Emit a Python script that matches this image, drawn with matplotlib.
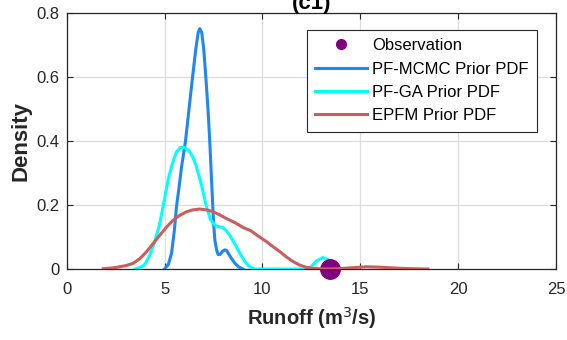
import numpy as np
import matplotlib
matplotlib.use("Agg")
import matplotlib.pyplot as plt

plt.rcParams['font.family'] = ['Liberation Sans', 'DejaVu Sans']

# -> values
mcmc_x = [5.0, 5.2, 5.36, 5.5, 5.61, 5.75, 5.87, 6.07, 6.25, 6.43, 6.6, 6.72, 6.8, 6.9,
          7.0, 7.11, 7.22, 7.31, 7.4, 7.5, 7.57, 7.66, 7.74, 7.85, 7.95, 8.08, 8.17,
          8.25, 8.4, 8.59, 8.8, 9.01]
mcmc_y = [0.0, 0.015, 0.05, 0.12, 0.195, 0.26, 0.32, 0.40, 0.50, 0.60, 0.69, 0.74, 0.752, 0.74,
          0.69, 0.60, 0.50, 0.40, 0.28, 0.15, 0.09, 0.06, 0.045, 0.046, 0.055, 0.06, 0.058,
          0.05, 0.035, 0.018, 0.006, 0.0]

ga_x = [3.49, 3.8, 4.0, 4.25, 4.5, 4.76, 5.0, 5.18, 5.4, 5.6, 5.8, 6.04, 6.25, 6.45, 6.63,
        6.9, 7.14, 7.35, 7.57, 7.75, 7.99, 8.15, 8.33, 8.6, 8.84, 9.1, 9.35, 9.6,
        10.5, 11.5, 12.24, 12.5, 12.75, 13.09, 13.4, 13.7, 13.94]
ga_y = [0.0, 0.006, 0.015, 0.044, 0.085, 0.143, 0.22, 0.278, 0.33, 0.365, 0.38, 0.38, 0.37, 0.35, 0.32,
        0.26, 0.195, 0.155, 0.137, 0.133, 0.13, 0.12, 0.106, 0.078, 0.05, 0.024, 0.007, 0.0,
        0.0, 0.0, 0.0, 0.008, 0.025, 0.036, 0.028, 0.01, 0.0]

epfm_x = [1.87, 2.3, 2.72, 3.05, 3.4, 3.75, 4.08, 4.42, 4.76, 5.1, 5.44, 5.78, 6.12, 6.45,
          6.8, 7.15, 7.48, 7.8, 8.16, 8.6, 9.01, 9.4, 9.86, 10.2, 10.54, 10.9, 11.22,
          11.55, 11.9, 12.25, 12.58, 13.2, 13.9, 14.6, 15.3, 15.9, 16.5, 17.1, 17.7, 18.45]
epfm_y = [0.001, 0.003, 0.007, 0.011, 0.018, 0.033, 0.054, 0.08, 0.106, 0.131, 0.153, 0.168, 0.179, 0.185,
          0.1875, 0.185, 0.179, 0.17, 0.158, 0.145, 0.13, 0.12, 0.10, 0.086, 0.07, 0.054, 0.038,
          0.024, 0.0125, 0.005, 0.002, 0.0, 0.001, 0.004, 0.007, 0.006, 0.004, 0.002, 0.001, 0.0]

obs_x = [13.43]
obs_y = [0.0]

x_ticks = [0, 5, 10, 15, 20, 25]
y_ticks = [0, 0.2, 0.4, 0.6, 0.8]
y_ticklabels = ['0', '0.2', '0.4', '0.6', '0.8']

fig = plt.figure(figsize=(5.67, 3.40), dpi=100)
ax = fig.add_axes([0.1176, 0.2088, 0.8630, 0.7521])

txt_col = '#262626'

ax.plot(obs_x, obs_y, 'o', color='#800080', markersize=14, label='Observation', zorder=5,
        clip_on=False)
ax.plot(mcmc_x, mcmc_y, color='#2087f2', lw=2.2, label='PF-MCMC Prior PDF', zorder=3)
ax.plot(ga_x, ga_y, color='#00ffff', lw=2.2, label='PF-GA Prior PDF', zorder=4)
ax.plot(epfm_x, epfm_y, color='#cd5c5c', lw=2.2, label='EPFM Prior PDF', zorder=6)

# -> axes settings
ax.set_xlim(0, 25)
ax.set_ylim(0, 0.8)
ax.set_xticks(x_ticks)
ax.set_yticks(y_ticks)
ax.set_yticklabels(y_ticklabels)
ax.grid(True, color='#dddddd', lw=0.9)
ax.set_axisbelow(True)
ax.tick_params(direction='in', length=4, width=0.8, colors=txt_col, labelsize=12,
               top=True, right=True)
ax.tick_params(axis='x', pad=9)
ax.tick_params(axis='y', pad=5)
for sp in ax.spines.values():
    sp.set_color(txt_col)
    sp.set_linewidth(0.9)

ax.set_xlabel('Runoff (m$^3$/s)', fontweight='bold', fontsize=14.5, color=txt_col, labelpad=6)
ax.set_ylabel('Density', fontweight='bold', fontsize=16, color=txt_col, labelpad=4)
ax.set_title('(c1)', fontweight='bold', fontsize=16, color='black', pad=3)

leg = ax.legend(loc='upper right', bbox_to_anchor=(0.961, 0.935), fontsize=12,
                frameon=True, fancybox=False, edgecolor=txt_col, framealpha=1,
                handlelength=3.1, handletextpad=0.3, borderpad=0.5, labelspacing=0.5,
                borderaxespad=0, markerscale=0.5)
leg.get_frame().set_linewidth(0.8)

fig.savefig('out.png', dpi=100)
